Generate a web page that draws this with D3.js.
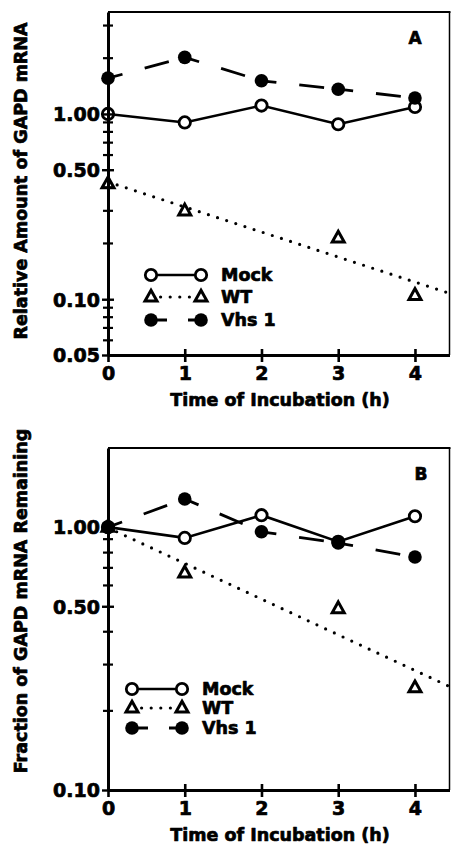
<!DOCTYPE html>
<html>
<head>
<meta charset="utf-8">
<script src="https://cdn.jsdelivr.net/npm/d3@7"></script>
<style>
  html, body { margin: 0; padding: 0; background: #fff; }
  svg { display: block; }
  text { font-family: "DejaVu Sans", "Liberation Sans", sans-serif; font-weight: bold; fill: #000;
         stroke: #000; stroke-width: 0.7px; stroke-linejoin: round; }
</style>
</head>
<body>
<svg id="chart" width="453" height="849"></svg>
<script>
// Incubation times (h)
const times = [0, 1, 2, 3, 4];
const xTickLabels = ["0", "1", "2", "3", "4"];
const seriesNames = ["Mock", "WT", "Vhs 1"];

// Panel A: relative amount of GAPD mRNA
const mockA = [1.00, 0.90, 1.11, 0.88, 1.09];
const wtTimesA = [0, 1, 3, 4];
const wtA = [0.42, 0.30, 0.214, 0.105];
const vhsA = [1.56, 2.02, 1.51, 1.36, 1.22];
const yTicksA = [1.00, 0.50, 0.10, 0.05];
const yMinorA = [0.06, 0.07, 0.08, 0.09, 0.2, 0.3, 0.4, 0.6, 0.7, 0.8, 0.9, 2, 3];

// Panel B: fraction of GAPD mRNA remaining
const mockB = [1.00, 0.91, 1.11, 0.88, 1.10];
const wtTimesB = [0, 1, 3, 4];
const wtB = [1.00, 0.67, 0.49, 0.245];
const vhsB = [1.00, 1.28, 0.96, 0.87, 0.77];
const yTicksB = [1.00, 0.50, 0.10];
const yMinorB = [0.2, 0.3, 0.4, 0.6, 0.7, 0.8, 0.9];

const svg = d3.select("#chart");

// least-squares fit of log10(value) against time
function logFit(ts, vs) {
  const ls = vs.map(v => Math.log10(v));
  const mt = d3.mean(ts), ml = d3.mean(ls);
  const sxy = d3.sum(ts, (t, i) => (t - mt) * (ls[i] - ml));
  const sxx = d3.sum(ts, t => (t - mt) * (t - mt));
  const slope = sxy / sxx;
  const icpt = ml - slope * mt;
  return t => Math.pow(10, icpt + slope * t);
}

function trianglePath(size) {
  const h = size * 0.9;
  return `M0,${-h * 0.62}L${size / 2},${h * 0.38}L${-size / 2},${h * 0.38}Z`;
}

function drawPanel(p) {
  const g = svg.append("g");
  const x = d3.scaleLinear().domain([0, 4.45]).range([108, 449.5]);
  const y = d3.scaleLog().domain(p.yDomain).range([p.bottom, p.top]);

  // frame: top and right edges
  g.append("line").attr("x1", x.range()[0]).attr("x2", x.range()[1] + 1)
    .attr("y1", p.top).attr("y2", p.top).attr("stroke", "#000").attr("stroke-width", 2.2);
  g.append("line").attr("x1", x.range()[1]).attr("x2", x.range()[1])
    .attr("y1", p.top).attr("y2", p.bottom).attr("stroke", "#000").attr("stroke-width", 1.5);

  // WT: dotted exponential fit
  const fit = logFit(p.wtTimes, p.wt);
  const fitPts = [0, x.domain()[1]].map(t => [x(t), y(fit(t))]);
  g.append("path").attr("d", d3.line()(fitPts))
    .attr("fill", "none").attr("stroke", "#000").attr("stroke-width", 3.2)
    .attr("stroke-linecap", "round").attr("stroke-dasharray", "0,9.6");

  // Mock: solid line
  g.append("path").attr("d", d3.line().x((d, i) => x(times[i])).y(d => y(d))(p.mock))
    .attr("fill", "none").attr("stroke", "#000").attr("stroke-width", 2.6);

  // Vhs 1: dashed, each segment restarts the dash pattern at its data point
  for (let i = 0; i < times.length - 1; i++) {
    g.append("line")
      .attr("x1", x(times[i])).attr("y1", y(p.vhs[i]))
      .attr("x2", x(times[i + 1])).attr("y2", y(p.vhs[i + 1]))
      .attr("stroke", "#000").attr("stroke-width", 2.8)
      .attr("stroke-dasharray", "15,23,25,40");
  }

  // markers
  g.selectAll(".mock").data(p.mock).join("circle")
    .attr("cx", (d, i) => x(times[i])).attr("cy", d => y(d)).attr("r", 5.7)
    .attr("fill", "#fff").attr("stroke", "#000").attr("stroke-width", 2.8);
  g.selectAll(".wt").data(p.wt).join("path")
    .attr("transform", (d, i) => `translate(${x(p.wtTimes[i])},${y(d)})`)
    .attr("d", trianglePath(12))
    .attr("fill", "#fff").attr("stroke", "#000").attr("stroke-width", 3)
    .attr("stroke-linejoin", "miter");
  g.selectAll(".vhs").data(p.vhs).join("circle")
    .attr("cx", (d, i) => x(times[i])).attr("cy", d => y(d)).attr("r", 6.8)
    .attr("fill", "#000");

  // y axis with labelled and minor ticks crossing the line
  const yAxis = g.append("g").attr("transform", `translate(${x(0)},0)`)
    .call(d3.axisLeft(y).tickValues(p.yTicks).tickFormat(d3.format(".2f")).tickSizeInner(0).tickSizeOuter(0).tickPadding(8));
  yAxis.select(".domain").attr("stroke-width", 3);
  yAxis.selectAll(".tick line").attr("x1", -6).attr("x2", 6).attr("stroke-width", 2.4);
  yAxis.selectAll(".tick text").attr("font-size", 19).attr("font-family", null).attr("dy", "0.36em");
  g.append("g").attr("transform", `translate(${x(0)},0)`)
    .selectAll("line").data(p.yMinor).join("line")
    .attr("x1", -5).attr("x2", 5).attr("y1", d => y(d)).attr("y2", d => y(d))
    .attr("stroke", "#000").attr("stroke-width", 2.2);

  // x axis
  const xAxis = g.append("g").attr("transform", `translate(0,${p.bottom})`)
    .call(d3.axisBottom(x).tickValues(times).tickFormat((d, i) => xTickLabels[i]).tickSizeInner(0).tickSizeOuter(0).tickPadding(12));
  xAxis.select(".domain").attr("stroke-width", 3);
  xAxis.selectAll(".tick line").attr("y1", -6).attr("y2", 7).attr("stroke-width", 2.6);
  xAxis.selectAll(".tick text").attr("font-size", 19).attr("font-family", null);

  // axis titles
  g.append("text").attr("x", 280).attr("y", p.bottom + 51)
    .attr("text-anchor", "middle").attr("font-size", 17.5).text("Time of Incubation (h)");
  g.append("text").attr("transform", `translate(27,${p.yTitleCenter}) rotate(-90)`)
    .attr("text-anchor", "middle").attr("font-size", 17.5).text(p.yTitle);

  // panel letter
  g.append("text").attr("x", p.letterX).attr("y", p.letterY)
    .attr("text-anchor", "middle").attr("font-size", 17).text(p.letter);

  // legend
  const lg = g.append("g");
  const rows = p.legendRows;
  const lx1 = p.legendX, lx2 = p.legendX + 50;
  lg.append("line").attr("x1", lx1).attr("x2", lx2).attr("y1", rows[0]).attr("y2", rows[0])
    .attr("stroke", "#000").attr("stroke-width", 2.6);
  lg.append("line").attr("x1", lx1).attr("x2", lx2).attr("y1", rows[1]).attr("y2", rows[1])
    .attr("stroke", "#000").attr("stroke-width", 3.2).attr("stroke-linecap", "round").attr("stroke-dasharray", "0,9.6");
  lg.append("line").attr("x1", lx1).attr("x2", lx2).attr("y1", rows[2]).attr("y2", rows[2])
    .attr("stroke", "#000").attr("stroke-width", 2.8).attr("stroke-dasharray", "16,21,25,40");
  [lx1, lx2].forEach(cx => {
    lg.append("circle").attr("cx", cx).attr("cy", rows[0]).attr("r", 5.7)
      .attr("fill", "#fff").attr("stroke", "#000").attr("stroke-width", 2.8);
    lg.append("path").attr("transform", `translate(${cx},${rows[1]})`).attr("d", trianglePath(12))
      .attr("fill", "#fff").attr("stroke", "#000").attr("stroke-width", 3);
    lg.append("circle").attr("cx", cx).attr("cy", rows[2]).attr("r", 6.8).attr("fill", "#000");
  });
  seriesNames.forEach((name, i) => {
    lg.append("text").attr("x", lx2 + 20).attr("y", rows[i]).attr("dy", "0.36em")
      .attr("font-size", 17.5).text(name);
  });
}

drawPanel({
  top: 12, bottom: 355, yDomain: [0.05, 3.55],
  mock: mockA, wt: wtA, wtTimes: wtTimesA, vhs: vhsA,
  yTicks: yTicksA, yMinor: yMinorA,
  yTitle: "Relative Amount of GAPD mRNA", yTitleCenter: 181,
  letter: "A", letterX: 415, letterY: 44,
  legendX: 151, legendRows: [275, 297, 320]
});

drawPanel({
  top: 448, bottom: 790, yDomain: [0.1, 2.0],
  mock: mockB, wt: wtB, wtTimes: wtTimesB, vhs: vhsB,
  yTicks: yTicksB, yMinor: yMinorB,
  yTitle: "Fraction of GAPD mRNA Remaining", yTitleCenter: 601,
  letter: "B", letterX: 421, letterY: 480,
  legendX: 132, legendRows: [689, 708, 728]
});
</script>
</body>
</html>
